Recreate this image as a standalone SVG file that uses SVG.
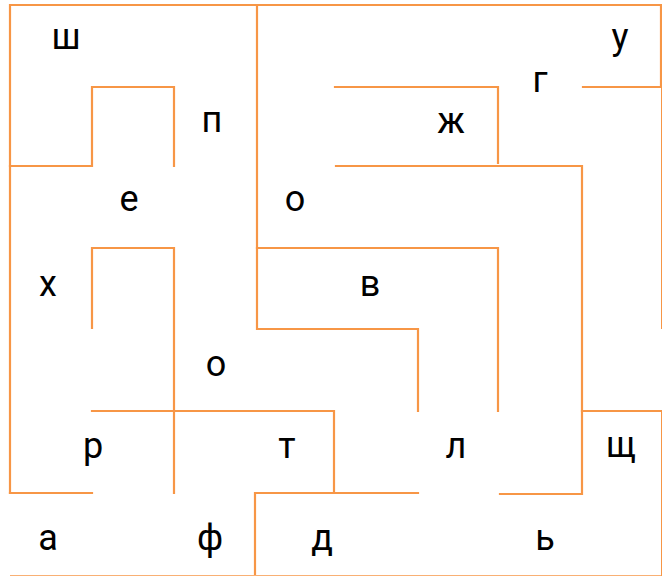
<svg xmlns="http://www.w3.org/2000/svg" width="662" height="576" viewBox="0 0 662 576">
<style>
.w{fill:none;stroke:#f79646;stroke-width:2.2;stroke-linecap:square;stroke-linejoin:miter}
.f{fill:none;stroke:#f79646;stroke-width:2}
.t{font-family:Roboto,"Noto Sans",sans-serif;font-size:36px;fill:#000;text-anchor:middle}
</style>
<rect width="662" height="576" fill="#fff"/>
<g id="connectors">
<path class="w" d="M10,493 V5 H661 V87"/>
<path class="f" d="M662,87 V329 M662,411 V576"/>
<path class="f" d="M10,576 H662" opacity="0.75"/>
<path class="w" d="M10,166 H92 V87 H174 V166"/>
<path class="w" d="M257,5 V329 H418 V411"/>
<path class="w" d="M257,248 H498 V411"/>
<path class="w" d="M92,328 V248 H174 V493"/>
<path class="w" d="M92,411 H334 V492"/>
<path class="w" d="M10,493 H92"/>
<path class="w" d="M255,574 V493 H418"/>
<path class="w" d="M335,87 H498 V163"/>
<path class="w" d="M583,87 H661"/>
<path class="w" d="M336,166 H582 V494 H500"/>
<path class="w" d="M582,411 H661"/>
</g>
<g id="n-sha"><text class="t" x="66" y="49">ш</text></g>
<g id="n-u"><text class="t" x="620" y="49">у</text></g>
<g id="n-ge"><text class="t" x="540" y="92">г</text></g>
<g id="n-pe"><text class="t" x="212" y="132">п</text></g>
<g id="n-zhe"><text class="t" x="451" y="133">ж</text></g>
<g id="n-ie"><text class="t" x="129" y="211">е</text></g>
<g id="n-o1"><text class="t" x="295" y="211">о</text></g>
<g id="n-kha"><text class="t" x="48" y="296">х</text></g>
<g id="n-ve"><text class="t" x="370" y="296">в</text></g>
<g id="n-o2"><text class="t" x="216" y="376">о</text></g>
<g id="n-er"><text class="t" x="93" y="458">р</text></g>
<g id="n-te"><text class="t" x="287" y="458">т</text></g>
<g id="n-el"><text class="t" x="456" y="458">л</text></g>
<g id="n-shcha"><text class="t" x="621" y="457">щ</text></g>
<g id="n-a"><text class="t" x="48" y="550">а</text></g>
<g id="n-ef"><text class="t" x="210" y="550">ф</text></g>
<g id="n-de"><text class="t" x="322" y="550">д</text></g>
<g id="n-soft"><text class="t" x="545" y="550">ь</text></g>
</svg>
